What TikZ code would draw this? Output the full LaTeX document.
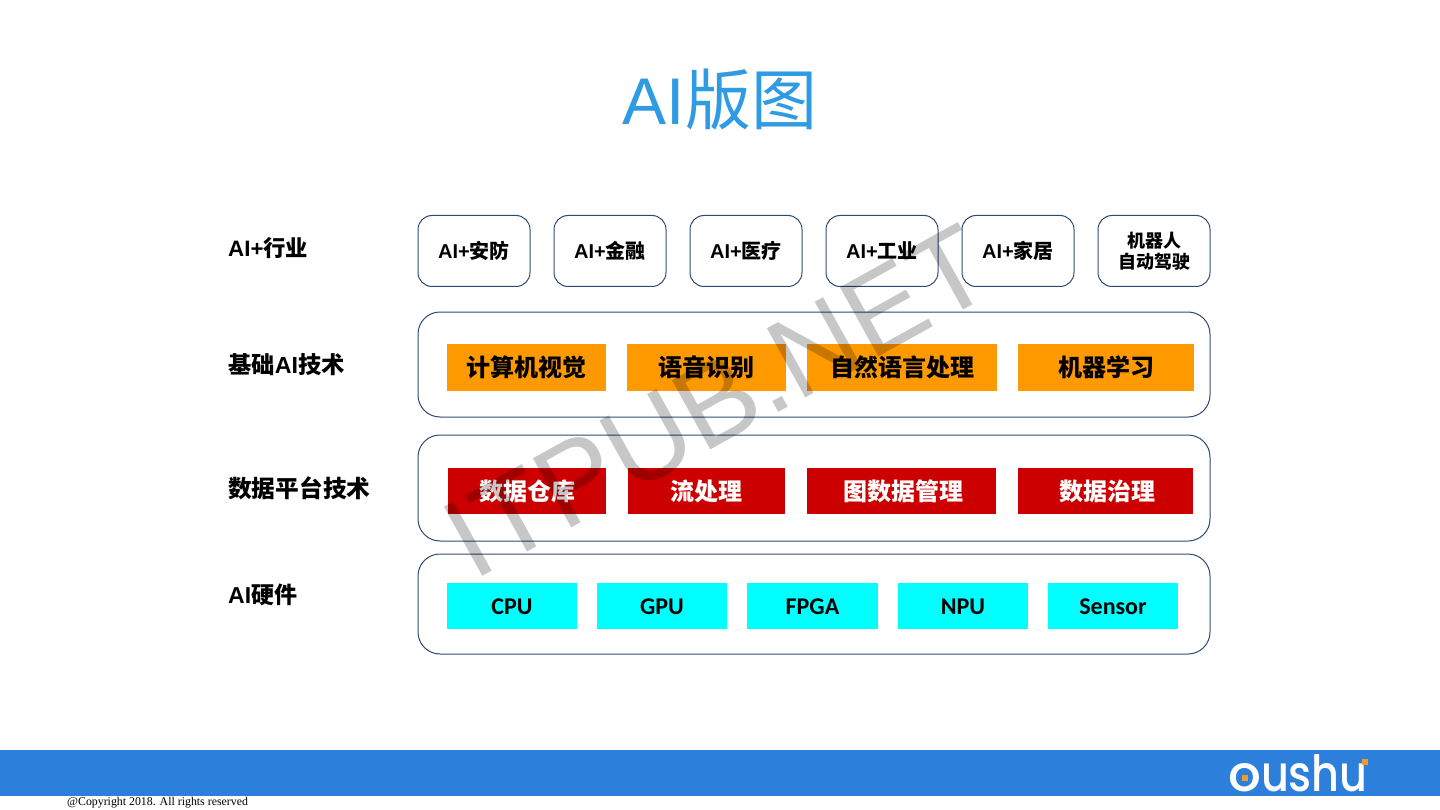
\documentclass[tikz,border=0pt]{standalone}
\usepackage{fontspec}
\setmainfont{Liberation Sans}
\newfontfamily\cjk{Noto Sans CJK SC}
\newfontfamily\serifcopy{Liberation Serif}
\newfontfamily\calfont{Carlito}
\newfontfamily\logofont{Poppins Medium}
\definecolor{titleblue}{HTML}{2F9BE3}
\definecolor{bandblue}{HTML}{2D7FDC}
\definecolor{edgeblue}{HTML}{2F4B73}
\definecolor{orangefill}{HTML}{FF9900}
\definecolor{redfill}{HTML}{CC0000}
\definecolor{cyanfill}{HTML}{00FFFF}
\definecolor{logodot}{HTML}{F09A28}
\newcommand{\zh}[1]{{\cjk\bfseries #1}}
\tikzset{
  card/.style={draw=edgeblue,line width=1pt,fill=white,rounded corners=14pt,minimum width=112pt,minimum height=71pt,inner sep=0pt,align=center,font=\fontsize{20}{21}\selectfont\bfseries},
  panel/.style={draw=edgeblue,line width=1pt,fill=white,rounded corners=22pt,minimum width=792pt,inner sep=0pt},
  orangebox/.style={fill=orangefill,minimum height=47pt,inner sep=0pt,text=black,font=\fontsize{24}{26}\selectfont\bfseries},
  redbox/.style={fill=redfill,minimum height=46pt,inner sep=0pt,text=white,font=\fontsize{24}{26}\selectfont\bfseries},
  cyanbox/.style={fill=cyanfill,minimum height=46pt,minimum width=130pt,inner sep=0pt,text height=17pt,text depth=0pt,text=black,font=\fontsize{24}{26}\calfont\bfseries},
  sidelabel/.style={anchor=west,inner sep=0pt,text=black,font=\fontsize{23.3}{24}\selectfont\bfseries},
}
\begin{document}
\begin{tikzpicture}[x=1pt,y=-1pt]
\useasboundingbox (0,0) rectangle (1440,810);
\fill[white] (0,0) rectangle (1440,810);

\node[text=titleblue,inner sep=0pt,font=\fontsize{66}{68}\selectfont] (title) at (720,100) {AI{\cjk 版图}};

\node[sidelabel,font=\fontsize{22.3}{24}\selectfont\bfseries] (l1) at (228,248) {AI+\zh{行业}};
\node[sidelabel] (l2) at (228,365) {\zh{基础}AI\zh{技术}};
\node[sidelabel] (l3) at (228,488) {\fontsize{23.7}{26}\selectfont\zh{数据平台技术}};
\node[sidelabel,font=\fontsize{23}{24}\selectfont\bfseries] (l4) at (228,595) {AI\zh{硬件}};

\node[card] (c1) at (474,251) {AI+\zh{安防}};
\node[card] (c2) at (610,251) {AI+\zh{金融}};
\node[card] (c3) at (746,251) {AI+\zh{医疗}};
\node[card] (c4) at (882,251) {AI+\zh{工业}};
\node[card] (c5) at (1018,251) {AI+\zh{家居}};
\node[card,font=\fontsize{18}{21}\selectfont] (c6) at (1154,251) {\zh{机器人}\\\zh{自动驾驶}};

\node[panel,minimum height=105pt] (p1) at (814,364.5) {};
\node[panel,minimum height=106pt] (p2) at (814,488) {};
\node[panel,minimum height=100pt] (p3) at (814,604) {};

\node[orangebox,minimum width=159pt] (o1) at (526.5,367.5) {\zh{计算机视觉}};
\node[orangebox,minimum width=159pt] (o2) at (706.5,367.5) {\zh{语音识别}};
\node[orangebox,minimum width=190pt] (o3) at (902,367.5) {\zh{自然语言处理}};
\node[orangebox,minimum width=176pt] (o4) at (1106,367.5) {\zh{机器学习}};

\node[redbox,minimum width=158pt] (r1) at (527,491) {\zh{数据仓库}};
\node[redbox,minimum width=157pt] (r2) at (706.5,491) {\zh{流处理}};
\node[redbox,minimum width=189pt] (r3) at (901.5,491) {\,\zh{图数据管理}};
\node[redbox,minimum width=175pt] (r4) at (1105.5,491) {\,\zh{数据治理}};

\node[cyanbox] (h1) at (512,606) {CPU};
\node[cyanbox] (h2) at (662,606) {GPU};
\node[cyanbox,minimum width=131pt] (h3) at (812.5,606) {FPGA};
\node[cyanbox] (h4) at (963,606) {NPU};
\node[cyanbox] (h5) at (1113,606) {Sensor};

\fill[bandblue] (0,750) rectangle (1440,796);
\node[anchor=west,inner sep=0pt,text=white,font=\fontsize{50}{52}\logofont] (logotext) at (1228,773) {\scalebox{1.03}[1]{o}\scalebox{.86}[1]{ushu}};
\fill[logodot] (1242,775) rectangle (1248,781);
\fill[logodot] (1362,759) rectangle (1368,765);
\node[anchor=west,inner sep=0pt,text=black,font=\fontsize{11.85}{12}\serifcopy] (copy) at (67,803) {@Copyright 2018. All rights reserved};

\node[rotate=29,inner sep=0pt,text=black,text opacity=0.22,font=\fontsize{115}{115}\selectfont] (mark) at (717.5,402) {ITPUB.NET};
\end{tikzpicture}
\end{document}
